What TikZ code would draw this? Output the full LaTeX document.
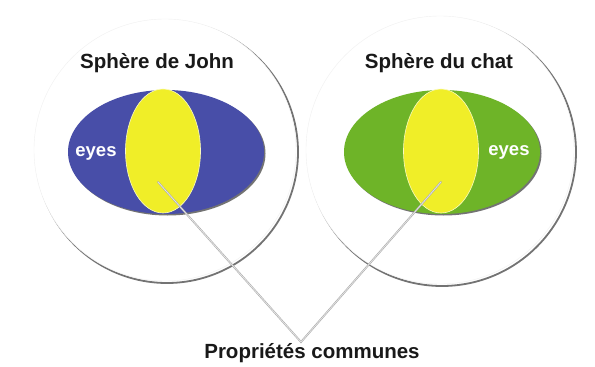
\documentclass[tikz,border=0pt]{standalone}
\usepackage{fontspec}
\setmainfont{Liberation Sans}
\usetikzlibrary{shapes.geometric}
\definecolor{jblue}{RGB}{72,78,168}
\definecolor{cgreen}{RGB}{110,180,40}
\definecolor{pyellow}{RGB}{240,238,40}
\tikzset{
  sphere/.style={circle,draw=gray!12,line width=0.4pt,fill=white,minimum size=#1,inner sep=0pt},
  sphereshadow/.style={circle,draw=black!55,line width=1.8pt,minimum size=#1,inner sep=0pt},
  bigell/.style={ellipse,minimum width=196pt,minimum height=124pt,inner sep=0pt,draw=none},
  yell/.style={ellipse,minimum width=75pt,minimum height=124pt,inner sep=0pt,fill=pyellow,draw=white!70!pyellow,line width=0.6pt},
  ellshadow/.style={ellipse,minimum width=196pt,minimum height=124pt,inner sep=0pt,fill=black!55},
  title/.style={font=\bfseries\fontsize{20.5}{24}\selectfont,text=black!90},
  eyes/.style={font=\bfseries\fontsize{18.5}{22}\selectfont,text=white},
  pointer/.style={draw=gray!65,line width=1.8pt,line cap=round},
  pointerhi/.style={draw=white!85!gray,line width=0.6pt,line cap=round}
}
\begin{document}
\begin{tikzpicture}[x=1pt,y=-1pt]
\useasboundingbox[fill=white] (0,0) rectangle (595,367);
% spheres
\node[sphereshadow=262pt] (lsh) at (167,152) {};
\node[sphere=262pt] (lsphere) at (165,150) {};
\node[sphereshadow=268pt] (rsh) at (442,152) {};
\node[sphere=268pt] (rsphere) at (440,150) {};
% big ellipses
\node[ellshadow] (lesh) at (167.5,153.5) {};
\node[bigell,fill=jblue] (john) at (166,152) {};
\node[ellshadow] (resh) at (443.5,153.5) {};
\node[bigell,fill=cgreen] (chat) at (442,152) {};
% yellow overlaps
\node[yell] (lyel) at (163,151) {};
\node[yell] (ryel) at (441,151) {};
% texts
\node[title] (ltitle) at (157,63) {Sphère de John};
\node[title] (rtitle) at (439,63) {Sphère du chat};
\node[eyes] (leyes) at (96,153) {eyes};
\node[eyes] (reyes) at (509,152) {eyes};
\node[title] (props) at (312,353) {Propriétés communes};
% pointers
\coordinate (lp) at (158,182);
\coordinate (rp) at (441,182);
\coordinate (apex) at (301,342);
\draw[pointer] (lp) -- (apex) -- (rp);
\draw[pointerhi] (lp) -- (apex) -- (rp);
\end{tikzpicture}
\end{document}
